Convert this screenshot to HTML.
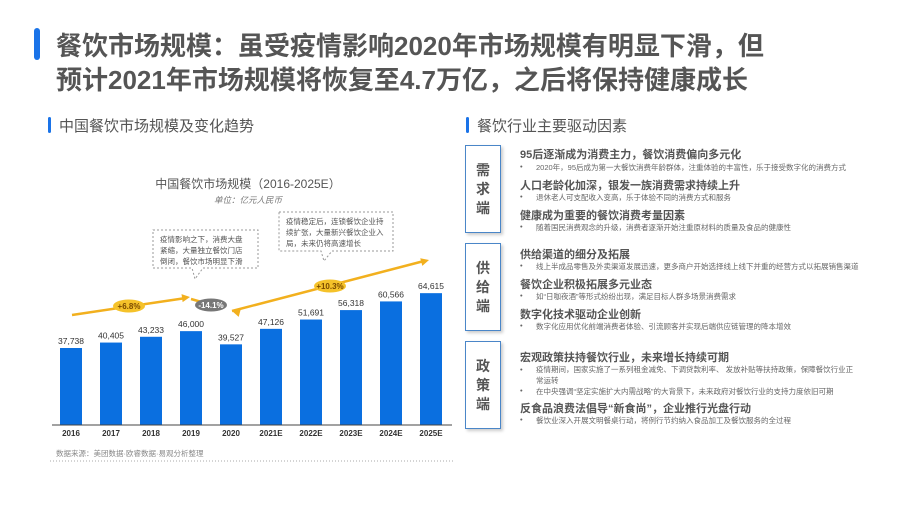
<!DOCTYPE html>
<html><head><meta charset="utf-8"><style>
body{margin:0;width:920px;height:518px;background:#fff;font-family:"Liberation Sans","Noto Sans CJK SC",sans-serif;position:relative;overflow:hidden;color:#555}
.a{position:absolute;white-space:nowrap}
.h{font-size:11px;font-weight:bold;color:#555;left:520px}
.b{font-size:7.5px;color:#666;left:522px}
.b:before{content:"•";position:absolute;left:-2px}
.b span{margin-left:14px}
.box{position:absolute;left:465px;width:34px;height:86px;border:1.5px solid #4a86c8;box-shadow:2px 2px 3px #ccc;font-size:14px;font-weight:bold;color:#555;text-align:center;line-height:19px;display:flex;align-items:center;justify-content:center;flex-direction:column}
</style></head><body>
<div class="a" style="left:34px;top:28px;width:6px;height:32px;border-radius:3px;background:#1a73e8"></div>
<div class="a" style="left:56px;top:29px;font-size:26px;font-weight:bold;color:#555;line-height:34px">餐饮市场规模：虽受疫情影响2020年市场规模有明显下滑，但<br>预计2021年市场规模将恢复至4.7万亿，之后将保持健康成长</div>
<div class="a" style="left:48px;top:117px;width:3px;height:16px;border-radius:2px;background:#1a73e8"></div>
<div class="a" style="left:59px;top:115px;font-size:15px;color:#555">中国餐饮市场规模及变化趋势</div>
<div class="a" style="left:466px;top:117px;width:3px;height:16px;border-radius:2px;background:#1a73e8"></div>
<div class="a" style="left:477px;top:115px;font-size:15px;color:#555">餐饮行业主要驱动因素</div>

<svg class="a" style="left:0;top:0" width="460" height="480" id="chart">
<text x="248" y="188" text-anchor="middle" font-size="12" fill="#555">中国餐饮市场规模（2016-2025E）</text>
<text x="248" y="203" text-anchor="middle" font-size="8.5" font-style="italic" fill="#777">单位：亿元人民币</text>
</svg>

<div class="box" style="top:145px">需<br>求<br>端</div>
<div class="box" style="top:243px">供<br>给<br>端</div>
<div class="box" style="top:341px">政<br>策<br>端</div>

<div class="a h" style="top:146px">95后逐渐成为消费主力，餐饮消费偏向多元化</div>
<div class="a b" style="top:162px"><span>2020年，95后成为第一大餐饮消费年龄群体，注重体验的丰富性，乐于接受数字化的消费方式</span></div>
<div class="a h" style="top:177px">人口老龄化加深，银发一族消费需求持续上升</div>
<div class="a b" style="top:192px"><span>退休老人可支配收入变高，乐于体验不同的消费方式和服务</span></div>
<div class="a h" style="top:207px">健康成为重要的餐饮消费考量因素</div>
<div class="a b" style="top:222px"><span>随着国民消费观念的升级，消费者逐渐开始注重原材料的质量及食品的健康性</span></div>
<div class="a h" style="top:246px">供给渠道的细分及拓展</div>
<div class="a b" style="top:261px"><span>线上半成品零售及外卖渠道发展迅速，更多商户开始选择线上线下并重的经营方式以拓展销售渠道</span></div>
<div class="a h" style="top:276px">餐饮企业积极拓展多元业态</div>
<div class="a b" style="top:291px"><span>如“日咖夜酒”等形式纷纷出现，满足目标人群多场景消费需求</span></div>
<div class="a h" style="top:306px">数字化技术驱动企业创新</div>
<div class="a b" style="top:321px"><span>数字化应用优化前端消费者体验、引流顾客并实现后端供应链管理的降本增效</span></div>
<div class="a h" style="top:349px">宏观政策扶持餐饮行业，未来增长持续可期</div>
<div class="a b" style="top:364px;line-height:11px"><span>疫情期间，国家实施了一系列租金减免、下调贷款利率、 发放补贴等扶持政策，保障餐饮行业正</span><br><span>常运转</span></div>
<div class="a b" style="top:386px"><span>在中央强调“坚定实施扩大内需战略”的大背景下，未来政府对餐饮行业的支持力度依旧可期</span></div>
<div class="a h" style="top:400px">反食品浪费法倡导“新食尚”，企业推行光盘行动</div>
<div class="a b" style="top:415px"><span>餐饮业深入开展文明餐桌行动，将例行节约纳入食品加工及餐饮服务的全过程</span></div>

<script>
const categories=["2016","2017","2018","2019","2020","2021E","2022E","2023E","2024E","2025E"];
const values=[37738,40405,43233,46000,39527,47126,51691,56318,60566,64615];
const labels=["37,738","40,405","43,233","46,000","39,527","47,126","51,691","56,318","60,566","64,615"];
const svg=document.getElementById('chart');
const NS='http://www.w3.org/2000/svg';
const base=425, k=77/37738;
const x=i=>71+i*40, y=v=>base-v*k;
function mk(t,a,txt){const e=document.createElementNS(NS,t);for(const n in a)e.setAttribute(n,a[n]);if(txt)e.textContent=txt;svg.appendChild(e);return e;}
categories.forEach((c,i)=>{
 const r=mk('rect',{x:x(i)-11,y:y(values[i]),width:22,height:base-y(values[i]),fill:'#0a6fe0'});
 
 
 const t=mk('text',{x:x(i),y:y(values[i])-4,'text-anchor':'middle','font-size':8.5,fill:'#333'},labels[i]);
 
 
 const l=mk('text',{x:x(i),y:base+11,'text-anchor':'middle','font-size':8,fill:'#333','font-weight':'bold'},c);
 
 
});
const ax=mk('line',{x1:52,x2:452,y1:base,y2:base,stroke:'#444','stroke-width':1});


const tr=mk('polyline',{points:'72,315 186,298',fill:'none',stroke:'#f2b01e','stroke-width':2.5});


const tr2=mk('polyline',{points:'191,299 205,303',fill:'none',stroke:'#f2b01e','stroke-width':2.5});


const tr3=mk('polyline',{points:'232,311 424,261',fill:'none',stroke:'#f2b01e','stroke-width':2.5});


[[190,297,-8],[232,311,-165],[429,260,-15]].forEach(([px,py,ang])=>{
 const p=mk('polygon',{points:'0,0 -8,-4 -8,4',fill:'#f2b01e',transform:`translate(${px},${py}) rotate(${ang})`});
 
 
});
[[129,306,'+6.8%','#f5c22a','#7a4a00'],[211,305,'-14.1%','#777','#fff'],[330,286,'+10.3%','#f5c22a','#7a4a00']].forEach(([cx,cy,t,f,tc])=>{
 const e=mk('ellipse',{cx:cx,cy:cy,rx:16,ry:6.5,fill:f});
 
 
 const tt=mk('text',{x:cx,y:cy+3,'text-anchor':'middle','font-size':8,'font-weight':'bold',fill:tc},t);
 
 
});
function callout(x1,y1,x2,y2,tx,ty,lines){
 const p=mk('path',{d:`M${x1},${y1}H${x2}V${y2}H${tx+8}L${tx},${ty}L${tx-3},${y2}H${x1}Z`,fill:'#fff',stroke:'#999','stroke-dasharray':'2,2'});
 
 
 lines.forEach((l,i)=>{const t=mk('text',{x:x1+7,y:y1+12+i*11,'font-size':7.5,fill:'#555'},l);
 
 });
}
callout(153,230,258,268,195,279,['疫情影响之下，消费大盘','紧缩，大量独立餐饮门店','倒闭，餐饮市场明显下滑']);
callout(279,212,393,251,324,261,['疫情稳定后，连锁餐饮企业持','续扩张，大量新兴餐饮企业入','局，未来仍将高速增长']);
const s=mk('text',{x:56,y:456,'font-size':7.5,fill:'#888'},'数据来源：美团数据·欧睿数据·易观分析整理');


const dl=mk('line',{x1:50,x2:455,y1:461,y2:461,stroke:'#aaa','stroke-dasharray':'1,2'});


</script>
</body></html>
